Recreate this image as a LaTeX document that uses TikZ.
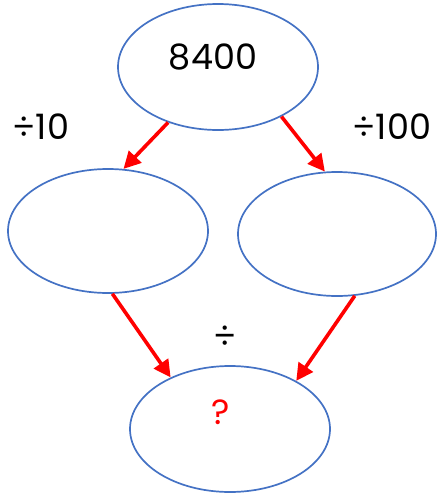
\documentclass[tikz,border=0pt]{standalone}
\usepackage{fontspec}
\setmainfont{Poppins}
\usetikzlibrary{arrows.meta, shapes.geometric}

\definecolor{ringblue}{RGB}{68,114,196}

\begin{document}
\begin{tikzpicture}[x=1pt, y=-1pt, font=\fontsize{35}{38}\selectfont,
  ring/.style={draw=ringblue, line width=1.7pt, ellipse, inner sep=0pt,
               minimum width=200pt, minimum height=126pt},
  op/.style={inner sep=0pt},
  arr/.style={-{Triangle[length=17pt, width=17pt]}, draw=red, line width=3.6pt}]

\useasboundingbox (0,0) rectangle (437,496);

% --- ellipses
\node[ring] (top) at (218,67) {};
\node[ring, minimum width=200pt, minimum height=124pt] (left) at (108,231) {};
\node[ring, minimum width=198pt, minimum height=124pt] (right) at (337,234) {};
\node[ring] (bottom) at (230,429) {};

% --- texts
\node[op] (num) at (213,57) {8400};
\node[op, text=red] (ask) at (221,412) {?};
\node[op] (d10) at (41,127) {÷10};
\node[op] (d100) at (392,127) {÷100};
\node[op] (dv) at (225,337) {÷};

% --- arrows
\draw[arr] (top.228) -- (left.76);
\draw[arr] (top.322) -- (right.101);
\draw[arr] (left.274) -- (bottom.139);
\draw[arr] (right.286) -- (bottom.36);
\end{tikzpicture}
\end{document}
